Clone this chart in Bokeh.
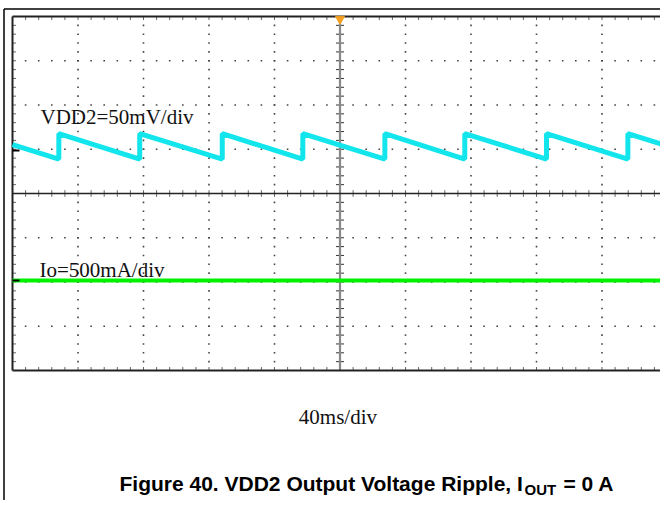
import numpy as np
from bokeh.plotting import figure
from bokeh.models import Range1d
from bokeh.core.properties import value
from bokeh.embed import file_html
from bokeh.resources import INLINE

# ---------------- data ----------------
# CH1: VDD2 ripple, mV relative to its ground marker (sawtooth vertices)
vdd2_t_ms = [0.0, 28.3, 28.3, 77.7, 77.7, 128.1, 128.1, 177.3, 177.3,
             227.4, 227.4, 276.2, 276.2, 326.1, 326.1, 375.8, 375.8, 400.0]
vdd2_mv = [6.7, -9.7, 19.0, -9.7, 19.0, -9.7, 19.0, -9.7, 19.0,
           -9.7, 19.0, -9.7, 19.0, -9.7, 19.0, -9.7, 19.0, 5.0]
# CH2: output current, mA
io_t_ms = [0.0, 400.0]
io_ma = [0.0, 0.0]

ch_labels = ["VDD2=50mV/div", "Io=500mA/div"]
time_label = "40ms/div"
caption_main = "Figure 40. VDD2 Output Voltage Ripple, I"
caption_sub = "OUT"
caption_tail = "= 0 A"

MS_PER_DIV = 40.0
MV_PER_DIV = 50.0
MA_PER_DIV = 500.0
CH1_OFFSET_DIV = 0.972   # ground marker of CH1 (divisions above centre)
CH2_OFFSET_DIV = -1.966  # ground marker of CH2

# ---------------- layout ----------------
W, H = 660, 500
PXX = 65.5          # px per horizontal division
PXY = 44.25         # px per vertical division
X0 = 12.0           # scope left edge, px
YC = 193.0          # scope centre line, px


def fx(px):
    return (px - X0) / PXX * MS_PER_DIV


def fy(py):
    return (YC - py) / PXY


def dxp(px):
    return px / PXX * MS_PER_DIV


def dyp(px):
    return px / PXY


p = figure(width=W, height=H, output_backend="svg", toolbar_location=None,
           x_range=Range1d(fx(0), fx(W)), y_range=Range1d(fy(H), fy(0)),
           x_axis_type=None, y_axis_type=None, min_border=0,
           outline_line_color=None, background_fill_color="white",
           border_fill_color="white")

XMAX = 10 * MS_PER_DIV

# dotted grid
gx, gy = [], []
fine_y = np.arange(-4, 4.0001, 0.2)[1:-1]
fine_x = np.arange(0, XMAX + 0.001, MS_PER_DIV / 5)[1:-1]
for k in range(1, 10):
    if k == 5:
        continue
    for yv in fine_y:
        gx.append(k * MS_PER_DIV)
        gy.append(yv)
for j in (-3, -2, -1, 1, 2, 3):
    for xv in fine_x:
        gx.append(xv)
        gy.append(j)
p.scatter(gx, gy, marker="square", size=1.6, color="#444444", line_color=None)

# ticks on the border and centre lines
tick_col = "#666666"
p.segment(x0=[0] * len(fine_y), y0=fine_y, x1=[dxp(3.5)] * len(fine_y), y1=fine_y,
          line_color=tick_col, line_width=1)
p.segment(x0=[XMAX] * len(fine_y), y0=fine_y, x1=[XMAX - dxp(3.5)] * len(fine_y), y1=fine_y,
          line_color=tick_col, line_width=1)
p.segment(x0=fine_x, y0=[4] * len(fine_x), x1=fine_x, y1=[4 - dyp(3.5)] * len(fine_x),
          line_color=tick_col, line_width=1)
p.segment(x0=fine_x, y0=[-4] * len(fine_x), x1=fine_x, y1=[-4 + dyp(3.5)] * len(fine_x),
          line_color=tick_col, line_width=1)
p.segment(x0=fine_x, y0=[-dyp(3.3)] * len(fine_x), x1=fine_x, y1=[dyp(3.3)] * len(fine_x),
          line_color=tick_col, line_width=1)
p.segment(x0=[XMAX / 2 - dxp(4)] * len(fine_y), y0=fine_y,
          x1=[XMAX / 2 + dxp(4)] * len(fine_y), y1=fine_y,
          line_color="#333333", line_width=1)
p.segment(x0=[XMAX / 2], y0=[-4], x1=[XMAX / 2], y1=[4], line_color="#888888", line_width=2.2)
p.segment(x0=[0], y0=[0], x1=[XMAX], y1=[0], line_color="#222222", line_width=1.3)

# scope border
p.segment(x0=[0, 0, 0, XMAX], y0=[4, -4, -4, -4], x1=[XMAX, XMAX, 0, XMAX], y1=[4, -4, 4, 4],
          line_color="#222222", line_width=2)

# outer frame (top and left)
p.segment(x0=[fx(3.5), fx(3.5)], y0=[fy(8.5), fy(8.5)], x1=[fx(W), fx(3.5)], y1=[fy(8.5), fy(H)],
          line_color="black", line_width=1.5)

# traces
vdd2_div = [CH1_OFFSET_DIV + v / MV_PER_DIV for v in vdd2_mv]
io_div = [CH2_OFFSET_DIV + v / MA_PER_DIV for v in io_ma]
p.line(vdd2_t_ms, vdd2_div, line_color="#12E6EC", line_width=5)
p.line(io_t_ms, io_div, line_color="#00F200", line_width=4)

# channel ground markers
p.segment(x0=[0, 0], y0=[CH1_OFFSET_DIV, CH2_OFFSET_DIV], x1=[dxp(7), dxp(7)],
          y1=[CH1_OFFSET_DIV, CH2_OFFSET_DIV], line_color="black", line_width=2.2)

# trigger marker
p.scatter([XMAX / 2], [fy(18.5)], marker="inverted_triangle", size=9,
          color="#F5A020", line_color="#F5A020")

# texts
serif = value("Liberation Serif")
p.text(x=[fx(40), fx(39)], y=[fy(116.7), fy(269.3)], text=ch_labels,
       text_font=serif, text_font_size="21px", text_color="#111111",
       text_baseline="alphabetic", text_align="left")
p.text(x=[fx(298.3)], y=[fy(416.7)], text=[time_label],
       text_font=serif, text_font_size="21px", text_color="#111111",
       text_baseline="alphabetic", text_align="left")

sans = value("Liberation Sans")
p.text(x=[fx(119)], y=[fy(483.3)], text=[caption_main], text_font=sans,
       text_font_style="bold", text_font_size="21px", text_color="black",
       text_baseline="alphabetic", text_align="left")
p.text(x=[fx(524)], y=[fy(489.3)], text=[caption_sub], text_font=sans,
       text_font_style="bold", text_font_size="15px", text_color="black",
       text_baseline="alphabetic", text_align="left")
p.text(x=[fx(563)], y=[fy(483.3)], text=[caption_tail], text_font=sans,
       text_font_style="bold", text_font_size="21px", text_color="black",
       text_baseline="alphabetic", text_align="left")

open("out.html", "w").write(file_html(p, INLINE))
